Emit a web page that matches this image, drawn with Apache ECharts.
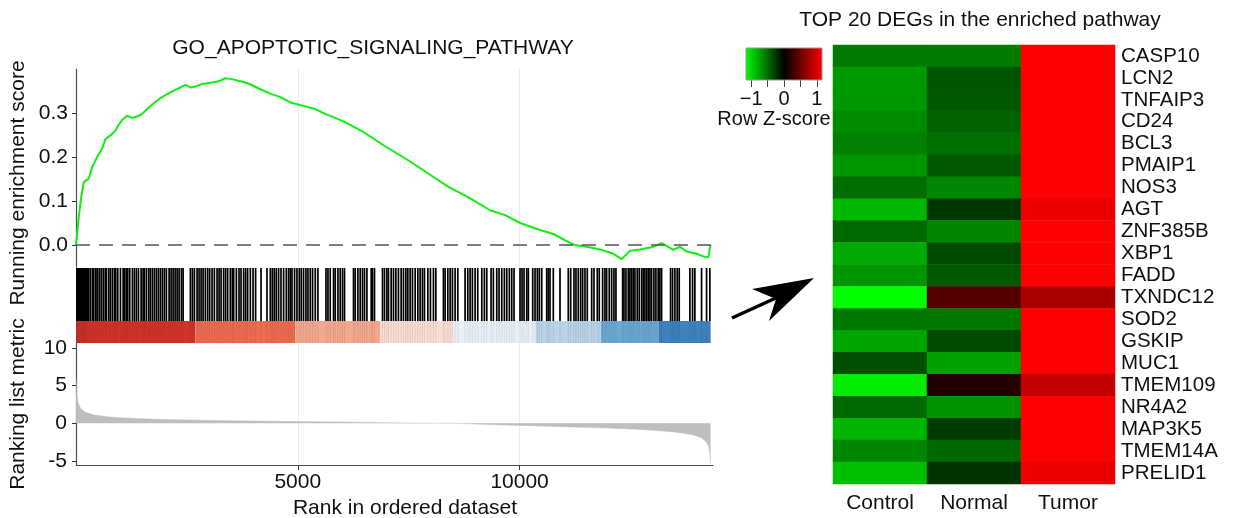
<!DOCTYPE html>
<html>
<head>
<meta charset="utf-8">
<title>GSEA plot and top 20 DEGs</title>
<script src="https://cdn.jsdelivr.net/npm/echarts@6/dist/echarts.min.js"></script>
<style>
  html, body { margin: 0; padding: 0; background: #fff; }
  #main { width: 1235px; height: 518px; }
</style>
</head>
<body>
<div id="main"></div>
<script>
// running enrichment score: [rank, score]
var esPoints = [
  [0, 0], [63, 0.064], [117, 0.109], [176, 0.143], [288, 0.151], [365, 0.177], [477, 0.200],
  [590, 0.219], [664, 0.241], [777, 0.249], [890, 0.260], [928, 0.268], [1040, 0.284],
  [1153, 0.294], [1266, 0.289], [1378, 0.292], [1491, 0.298], [1604, 0.309], [1752, 0.322],
  [1903, 0.334], [2054, 0.343], [2204, 0.351], [2354, 0.358], [2466, 0.364], [2579, 0.358],
  [2691, 0.360], [2842, 0.366], [3029, 0.369], [3216, 0.372], [3367, 0.379], [3518, 0.377],
  [3705, 0.372], [3892, 0.367], [4155, 0.354], [4381, 0.344], [4606, 0.336], [4831, 0.324],
  [5169, 0.315], [5394, 0.309], [5619, 0.298], [6032, 0.281], [6446, 0.259], [6896, 0.229],
  [7497, 0.192], [7947, 0.162], [8397, 0.132], [8848, 0.108], [9335, 0.079], [9673, 0.068],
  [10011, 0.050], [10462, 0.034], [10763, 0.025], [11137, 0.005], [11250, 0.0], [11514, -0.004],
  [11814, -0.010], [12114, -0.020], [12302, -0.032], [12489, -0.013], [12714, -0.010],
  [12977, -0.005], [13203, 0.004], [13465, -0.011], [13615, -0.004], [13766, -0.015],
  [13991, -0.020], [14142, -0.026], [14255, -0.028], [14290, -0.030], [14305, 0.0]
];

// ranks of the pathway genes (barcode)
var hitRanks = [
  5, 20, 35, 50, 70, 90, 110, 130, 150, 170, 190, 212, 230,
  252, 288, 327, 372, 401, 446, 477, 522, 567, 613, 658, 687, 739, 777, 822, 867, 896, 941,
  1002, 1063, 1099, 1137, 1167, 1212, 1272, 1317, 1362, 1408, 1468, 1513, 1543, 1588, 1639,
  1678, 1723, 1768, 1813, 1858, 1903, 1948, 1993, 2038, 2099, 2144, 2189, 2234, 2279, 2324,
  2376, 2414,
  2579, 2624, 2669, 2729, 2774, 2820, 2865, 2916, 2968, 3013, 3067, 3119, 3180, 3225, 3270,
  3328, 3373, 3419, 3479, 3524, 3554, 3615, 3675, 3720, 3779, 3824, 3869, 3930, 3991, 4049,
  4171, 4306, 4380, 4425, 4470, 4515, 4567, 4621, 4680, 4741, 4792,
  4831, 4869, 4927, 4981, 5033, 5078, 5130, 5184, 5229, 5281, 5333, 5394, 5454,
  5635, 5680, 5731, 5806, 5844, 5905, 5956, 6008, 6053,
  6256, 6294, 6355, 6407, 6459, 6504, 6558, 6655, 6684, 6729,
  6909, 6954, 7008, 7044, 7105, 7157, 7211, 7269, 7330, 7382, 7436, 7481, 7533, 7585, 7646,
  7706, 7758, 7810, 7855, 7932, 7990, 8058, 8112,
  8283, 8321, 8382, 8434, 8486, 8546, 8607,
  8771, 8832, 8884, 8936, 8997, 9057, 9148, 9206, 9260, 9357, 9409, 9485, 9537, 9598, 9657,
  9711, 9769, 9823, 9875, 10010, 10055, 10100, 10161, 10197,
  10296, 10348, 10400, 10445, 10499, 10611, 10647, 10686, 10760, 10911, 11098, 11152,
  11226, 11271, 11323, 11377, 11422, 11474, 11526, 11625, 11677, 11751, 11796,
  11872, 11924, 11962, 12021, 12075, 12127, 12172,
  12323, 12353, 12398, 12450, 12487, 12525, 12562, 12600, 12652, 12697, 12751, 12787, 12825,
  12864, 12900, 12938, 12976, 13028, 13073, 13124, 13163, 13201,
  13404, 13449, 13501, 13553, 13598, 13839, 13899, 13951, 14102, 14215, 14289
];

// colour band under the barcode: rank breaks between the 8 blocks
var bandBreaks = [0, 2691, 4943, 6857, 8495, 10370, 11834, 13140, 14305];
var bandColors = ['#d1332b', '#ee6b50', '#f3a88e', '#fadcd0', '#e9eff8', '#bad3e6', '#6ba9d3', '#3d81bd'];

// ranked list metric (grey area): [rank, metric]
var metricPoints = [
  [1, 6.0], [10, 4.6], [25, 3.5], [50, 2.7], [100, 2.0], [200, 1.5], [400, 1.1], [750, 0.85],
  [1000, 0.75], [1500, 0.62], [2000, 0.52], [2500, 0.45], [3500, 0.34], [5000, 0.23],
  [6000, 0.16], [7000, 0.08], [8000, 0.02], [8600, 0.0], [9000, -0.1], [10000, -0.28],
  [11000, -0.45], [12000, -0.62], [12500, -0.75], [13000, -0.92], [13500, -1.15],
  [13900, -1.5], [14100, -1.9], [14200, -2.4], [14260, -3.0], [14290, -4.0], [14305, -5.3]
];

var rankTicks = [5000, 10000];
var esTicks = [0, 0.1, 0.2, 0.3];
var metricTicks = [-5, 0, 5, 10];

// heatmap: row z-scores
var samples = ['Control', 'Normal', 'Tumor'];
var genes = ['CASP10', 'LCN2', 'TNFAIP3', 'CD24', 'BCL3', 'PMAIP1', 'NOS3', 'AGT', 'ZNF385B', 'XBP1',
  'FADD', 'TXNDC12', 'SOD2', 'GSKIP', 'MUC1', 'TMEM109', 'NR4A2', 'MAP3K5', 'TMEM14A', 'PRELID1'];
var zControl = [-0.56, -0.70, -0.69, -0.63, -0.59, -0.68, -0.50, -0.84, -0.48, -0.77,
  -0.68, -1.15, -0.55, -0.75, -0.36, -1.07, -0.48, -0.82, -0.61, -0.86];
var zNormal = [-0.56, -0.39, -0.41, -0.45, -0.51, -0.41, -0.61, -0.25, -0.61, -0.34,
  -0.40, 0.38, -0.55, -0.34, -0.73, 0.16, -0.66, -0.27, -0.47, -0.23];
var zTumor = [1.15, 1.15, 1.15, 1.15, 1.15, 1.15, 1.15, 1.08, 1.15, 1.15,
  1.15, 0.77, 1.15, 1.15, 1.15, 0.88, 1.15, 1.15, 1.15, 1.07];

var keyRange = [-1.155, 1.155];
var keyTicks = [-1, -0.5, 0, 0.5, 1];
var keyLabels = [-1, 0, 1];

var maxRank = 14360;
var font = '"Liberation Sans", Arial, Helvetica, sans-serif';

var heatData = [];
genes.forEach(function (g, i) {
  heatData.push([0, i, zControl[i]]);
  heatData.push([1, i, zNormal[i]]);
  heatData.push([2, i, zTumor[i]]);
});

var bandData = [];
for (var b = 0; b < bandColors.length; b++) {
  bandData.push([bandBreaks[b], bandBreaks[b + 1], b]);
}

function rankAxis(idx, withLabels, withGrid) {
  return {
    type: 'value', gridIndex: idx, min: 0, max: maxRank, interval: 2500,
    axisLine: { show: withLabels, onZero: false, lineStyle: { color: '#4d4d4d', width: 1.2 } },
    axisTick: { show: withLabels, customValues: rankTicks, length: 5, lineStyle: { color: '#333' } },
    axisLabel: {
      show: withLabels, customValues: rankTicks, margin: 7, color: '#111', fontSize: 21, fontFamily: font,
      formatter: function (v) { return String(v); }
    },
    splitLine: { show: withGrid, lineStyle: { color: '#ebebeb', width: 1 } }
  };
}

function hiddenAxis(idx) {
  return { type: 'value', gridIndex: idx, min: 0, max: 1, show: false };
}

function text(str, x, y, size, rot) {
  return {
    type: 'text', x: x, y: y, rotation: rot || 0,
    style: { text: str, fontSize: size, fontFamily: font, fill: '#111', align: 'center', verticalAlign: 'middle' }
  };
}

function hitLine(opacity, width) {
  return function (params, api) {
    var top = api.coord([api.value(0), 1]);
    var bot = api.coord([api.value(0), 0]);
    return {
      type: 'line',
      shape: { x1: top[0], y1: top[1], x2: bot[0], y2: bot[1] },
      style: { stroke: '#000', lineWidth: width, opacity: opacity }
    };
  };
}

var chart = echarts.init(document.getElementById('main'));

var option = {
  animation: false,
  backgroundColor: '#fff',
  grid: [
    { left: 76, top: 69, width: 637, height: 198 },
    { left: 76, top: 268, width: 637, height: 53 },
    { left: 76, top: 321, width: 637, height: 22 },
    { left: 76, top: 343, width: 637, height: 122 },
    { left: 833, top: 45, width: 282, height: 439 },
    { left: 746, top: 48, width: 76, height: 32 }
  ],
  xAxis: [
    rankAxis(0, false, true),
    rankAxis(1, false, false),
    rankAxis(2, false, false),
    rankAxis(3, true, true),
    {
      type: 'category', gridIndex: 4, data: samples, position: 'bottom',
      axisLine: { show: false }, axisTick: { show: false },
      axisLabel: { margin: 9, color: '#111', fontSize: 21, fontFamily: font }
    },
    {
      type: 'value', gridIndex: 5, min: keyRange[0], max: keyRange[1],
      axisLine: { show: false }, splitLine: { show: false },
      axisTick: { customValues: keyTicks, length: 7, lineStyle: { color: '#444' } },
      axisLabel: {
        customValues: keyLabels, margin: 9, color: '#111', fontSize: 20, fontFamily: font,
        formatter: function (v) { return v < 0 ? '\u2212' + Math.abs(v) : String(v); }
      }
    }
  ],
  yAxis: [
    {
      type: 'value', gridIndex: 0, min: -0.05, max: 0.4,
      axisLine: { show: true, lineStyle: { color: '#4d4d4d', width: 1.2 } },
      axisTick: { customValues: esTicks, length: 4, lineStyle: { color: '#333' } },
      axisLabel: {
        customValues: esTicks, margin: 8, color: '#111', fontSize: 21, fontFamily: font,
        formatter: function (v) { return v.toFixed(1); }
      },
      splitLine: { show: false }
    },
    hiddenAxis(1),
    hiddenAxis(2),
    {
      type: 'value', gridIndex: 3, min: -5.53, max: 10.66,
      axisLine: { show: true, lineStyle: { color: '#4d4d4d', width: 1.2 } },
      axisTick: { customValues: metricTicks, length: 4, lineStyle: { color: '#333' } },
      axisLabel: { customValues: metricTicks, margin: 9, color: '#111', fontSize: 21, fontFamily: font },
      splitLine: { show: false }
    },
    {
      type: 'category', gridIndex: 4, data: genes, inverse: true, position: 'right',
      axisLine: { show: false }, axisTick: { show: false },
      axisLabel: { interval: 0, margin: 6, align: 'left', color: '#111', fontSize: 20.5, fontFamily: font }
    },
    hiddenAxis(5)
  ],
  visualMap: {
    type: 'continuous', show: false, seriesIndex: 5, dimension: 2,
    min: keyRange[0], max: keyRange[1],
    inRange: { color: ['#00ff00', '#000000', '#ff0000'] }
  },
  series: [
    {
      type: 'line', xAxisIndex: 0, yAxisIndex: 0, data: esPoints,
      showSymbol: false, symbol: 'none',
      lineStyle: { color: '#12ee12', width: 2 },
      markLine: {
        silent: true, symbol: ['none', 'none'], label: { show: false },
        lineStyle: { color: '#555', type: [14, 9], width: 1.5 },
        data: [{ yAxis: 0 }]
      },
      z: 3
    },
    {
      type: 'custom', xAxisIndex: 1, yAxisIndex: 1, clip: true,
      data: hitRanks.map(function (r) { return [r]; }),
      encode: { x: 0 },
      renderItem: hitLine(1, 1.7)
    },
    {
      type: 'custom', xAxisIndex: 2, yAxisIndex: 2, clip: true,
      data: bandData,
      encode: { x: [0, 1] },
      renderItem: function (params, api) {
        var p0 = api.coord([api.value(0), 1]);
        var p1 = api.coord([api.value(1), 0]);
        return {
          type: 'rect',
          shape: { x: p0[0], y: p0[1], width: p1[0] - p0[0], height: p1[1] - p0[1] },
          style: { fill: bandColors[api.value(2)] }
        };
      }
    },
    {
      type: 'custom', xAxisIndex: 2, yAxisIndex: 2, clip: true,
      data: hitRanks.map(function (r) { return [r]; }),
      encode: { x: 0 },
      renderItem: hitLine(0.08, 1)
    },
    {
      type: 'line', xAxisIndex: 3, yAxisIndex: 3, data: metricPoints,
      showSymbol: false, symbol: 'none',
      lineStyle: { color: '#bebebe', width: 0.5 },
      areaStyle: { color: '#bebebe', opacity: 1, origin: 0 }
    },
    {
      type: 'heatmap', xAxisIndex: 4, yAxisIndex: 4, data: heatData,
      itemStyle: { borderWidth: 0 }
    },
    {
      type: 'custom', xAxisIndex: 5, yAxisIndex: 5,
      data: [keyRange],
      encode: { x: [0, 1] },
      renderItem: function (params, api) {
        var p0 = api.coord([api.value(0), 1]);
        var p1 = api.coord([api.value(1), 0]);
        return {
          type: 'rect',
          shape: { x: p0[0], y: p0[1], width: p1[0] - p0[0], height: p1[1] - p0[1] },
          style: {
            fill: new echarts.graphic.LinearGradient(0, 0, 1, 0, [
              { offset: 0, color: '#00ff00' },
              { offset: 0.5, color: '#000000' },
              { offset: 1, color: '#ff0000' }
            ]),
            stroke: '#999', lineWidth: 1
          }
        };
      }
    }
  ],
  graphic: [
    text('GO_APOPTOTIC_SIGNALING_PATHWAY', 373, 48, 21),
    text('TOP 20 DEGs in the enriched pathway', 980, 20, 21),
    text('Running enrichment score', 18, 183, 21, Math.PI / 2),
    text('Ranking list metric', 18, 404, 21, Math.PI / 2),
    text('Rank in ordered dataset', 405, 508, 21),
    text('Row Z-score', 774, 119, 20),
    // arrow pointing at the heatmap
    {
      type: 'line', shape: { x1: 732, y1: 318, x2: 778, y2: 297 },
      style: { stroke: '#000', lineWidth: 3.5 }
    },
    {
      type: 'polygon', shape: { points: [[814, 278], [752, 289], [776, 299], [769, 321]] },
      style: { fill: '#000' }
    }
  ]
};

chart.setOption(option);
</script>
</body>
</html>
